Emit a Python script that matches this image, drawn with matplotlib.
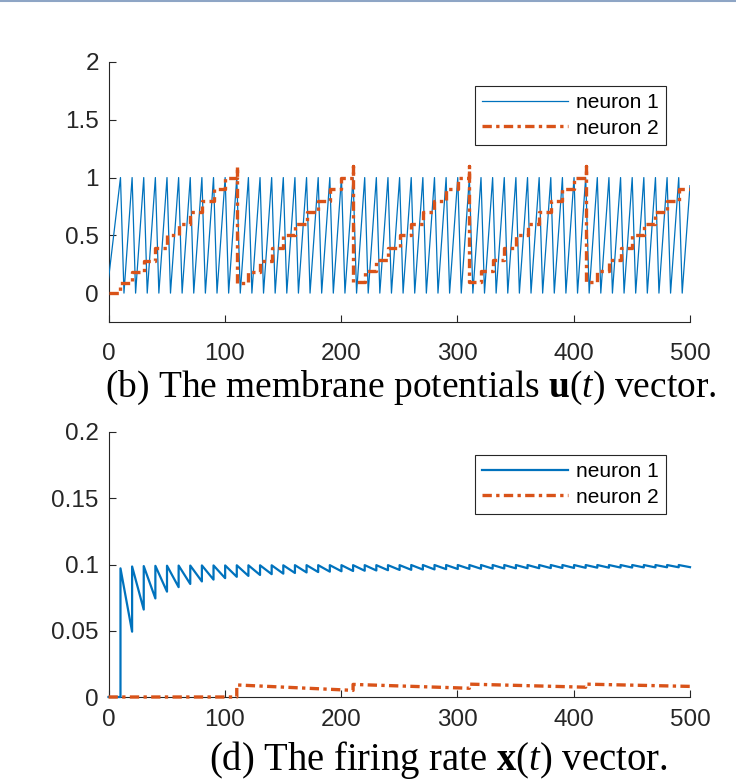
import matplotlib
matplotlib.use("Agg")
import matplotlib.pyplot as plt
from matplotlib.lines import Line2D

# MATLAB default line colours
BLUE, ORANGE, AX_COL = "#0072BD", "#D95319", "#262626"

plt.rcParams.update({
    "font.family": ["Liberation Sans", "DejaVu Sans"],
    "mathtext.fontset": "custom",
    "mathtext.rm": "Liberation Serif",
    "mathtext.it": "Liberation Serif:italic",
    "mathtext.bf": "Liberation Serif:bold",
})

# ── data ─────────────────────────────────────────────────────────────────────
# neuron 1: spike times (sawtooth peaks) and times where u1 is back at 0
spike_t1 = [10.3, 20.3, 30.3, 40.3, 50.3, 60.3, 70.3, 80.3, 90.3, 100.3,
            110.3, 120.3, 130.3, 140.3, 150.3, 160.3, 170.3, 180.3, 190.3, 200.3,
            210.3, 220.3, 230.3, 240.3, 250.3, 260.3, 270.3, 280.3, 290.3, 300.3,
            310.3, 320.3, 330.3, 340.3, 350.3, 360.3, 370.3, 380.3, 390.3, 400.3,
            410.3, 420.3, 430.3, 440.3, 450.3, 460.3, 470.3, 480.3, 490.3]
reset_t1 = [13.3, 23.3, 33.3, 43.3, 53.3, 63.3, 73.3, 83.3, 93.3, 103.3,
            113.3, 123.3, 133.3, 143.3, 153.3, 163.3, 173.3, 183.3, 193.3, 203.3,
            213.3, 223.3, 233.3, 243.3, 253.3, 263.3, 273.3, 283.3, 293.3, 303.3,
            313.3, 323.3, 333.3, 343.3, 353.3, 363.3, 373.3, 383.3, 393.3, 403.3,
            413.3, 423.3, 433.3, 443.3, 453.3, 463.3, 473.3, 483.3, 493.3]
u1_start, u1_peak, u1_floor, u1_end = 0.12, 1.0, 0.0, 0.93

# neuron 2 membrane potential: staircase levels (step-post)
u2_t = [0, 10.3, 20.3, 30.3, 40.3, 50.3, 60.3, 70.3, 80.3, 90.3, 100.3, 110.3, 110.3,
        120.3, 130.3, 140.3, 150.3, 160.3, 170.3, 180.3, 190.3, 200.3, 210.3, 210.3,
        220.3, 230.3, 240.3, 250.3, 260.3, 270.3, 280.3, 290.3, 300.3, 310.3, 310.3,
        320.3, 330.3, 340.3, 350.3, 360.3, 370.3, 380.3, 390.3, 400.3, 410.3, 410.3,
        420.3, 430.3, 440.3, 450.3, 460.3, 470.3, 480.3, 490.3, 500]
u2_v = [0.0, 0.09, 0.18, 0.28, 0.39, 0.5, 0.6, 0.7, 0.8, 0.9, 1.0, 1.1, 0.09,
        0.18, 0.28, 0.39, 0.5, 0.6, 0.7, 0.8, 0.9, 1.0, 1.1, 0.1,
        0.19, 0.29, 0.39, 0.5, 0.6, 0.7, 0.8, 0.9, 1.0, 1.1, 0.1,
        0.19, 0.29, 0.39, 0.5, 0.6, 0.7, 0.8, 0.9, 1.0, 1.1, 0.1,
        0.19, 0.29, 0.39, 0.5, 0.6, 0.7, 0.8, 0.9, 0.9]

# neuron 1 firing rate: value just before each spike and right after it
x1_trough = [0.0, 0.0493, 0.0660, 0.0744, 0.0795, 0.0829, 0.0853, 0.0872, 0.0886, 0.0897,
             0.0907, 0.0914, 0.0921, 0.0927, 0.0931, 0.0936, 0.0940, 0.0943, 0.0946, 0.0949,
             0.0951, 0.0953, 0.0955, 0.0957, 0.0959, 0.0960, 0.0962, 0.0963, 0.0965, 0.0966,
             0.0967, 0.0968, 0.0969, 0.0970, 0.0971, 0.0972, 0.0972, 0.0973, 0.0974, 0.0974,
             0.0975, 0.0976, 0.0976, 0.0977, 0.0977, 0.0978, 0.0978, 0.0979, 0.0979]
x1_peak = [0.0971, 0.0985, 0.0988, 0.0990, 0.0991, 0.0992, 0.0992, 0.0993, 0.0993, 0.0993,
           0.0994, 0.0994, 0.0994, 0.0994, 0.0994, 0.0995, 0.0995, 0.0995, 0.0995, 0.0995,
           0.0995, 0.0995, 0.0995, 0.0995, 0.0995, 0.0996, 0.0996, 0.0996, 0.0996, 0.0996,
           0.0996, 0.0996, 0.0996, 0.0996, 0.0996, 0.0996, 0.0996, 0.0996, 0.0996, 0.0996,
           0.0996, 0.0996, 0.0996, 0.0996, 0.0996, 0.0996, 0.0996, 0.0996, 0.0996]
x1_end = 0.0980

# neuron 2 firing rate (vertices)
x2_t = [0, 110.3, 110.3, 210.3, 210.3, 310.3, 310.3, 410.3, 410.3, 500]
x2_v = [0.0, 0.0, 0.0091, 0.0050, 0.0095, 0.0066, 0.0097, 0.0074, 0.0097, 0.0080]

x_ticks = [0, 100, 200, 300, 400, 500]
u_ticks = [0, 0.5, 1, 1.5, 2]
u_ticklabels = ["0", "0.5", "1", "1.5", "2"]
x_rate_ticks = [0, 0.05, 0.1, 0.15, 0.2]
x_rate_ticklabels = ["0", "0.05", "0.1", "0.15", "0.2"]
labels = ["neuron 1", "neuron 2"]
caption_b = r"(b) The membrane potentials $\mathbf{u}(t)$ vector."
caption_d = r"(d) The firing rate $\mathbf{x}(t)$ vector."

# polyline vertices built from the lists above
u1_t, u1_v = [0.0], [u1_start]
for s, r in zip(spike_t1, reset_t1):
    u1_t += [s, r]
    u1_v += [u1_peak, u1_floor]
u1_t.append(500)
u1_v.append(u1_end)

x1_t, x1_v = [0.0], [0.0]
for s, lo, hi in zip(spike_t1, x1_trough, x1_peak):
    x1_t += [s, s]
    x1_v += [lo, hi]
x1_t.append(500)
x1_v.append(x1_end)

W, H = 736, 780
DASHDOT = (0, (2.8, 1.3, 1.0, 1.3))


def _style(ax, ylim, yticks, yticklabels, xpad):
    ax.set_xlim(0, 500)
    ax.set_ylim(*ylim)
    ax.set_xticks(x_ticks)
    ax.set_xticklabels([str(v) for v in x_ticks])
    ax.set_yticks(yticks)
    ax.set_yticklabels(yticklabels)
    for side in ("top", "right"):
        ax.spines[side].set_visible(False)
    for side in ("left", "bottom"):
        ax.spines[side].set_color(AX_COL)
        ax.spines[side].set_linewidth(0.8)
    ax.tick_params(direction="in", length=5, width=0.8, colors=AX_COL, labelsize=17.5)
    ax.tick_params(axis="x", pad=xpad)
    ax.tick_params(axis="y", pad=7)


def _legend(ax, fig, top_px):
    leg = ax.legend(labels, loc="upper right",
                    bbox_to_anchor=(666 / W, 1 - top_px / H),
                    bbox_transform=fig.transFigure, fontsize=15, frameon=True,
                    fancybox=False, framealpha=1, edgecolor=AX_COL,
                    handlelength=4.1, handletextpad=0.4, borderpad=0.35,
                    labelspacing=0.3, borderaxespad=0)
    leg.get_frame().set_linewidth(0.8)


fig = plt.figure(figsize=(W / 100, H / 100), dpi=100)

ax1 = fig.add_axes([108.5 / W, (H - 322) / H, (690 - 108.5) / W, 260 / H])
ax1.plot(u1_t, u1_v, color=BLUE, lw=0.9, zorder=3)
ax1.plot(u2_t, u2_v, color=ORANGE, lw=2.4, ls=DASHDOT, drawstyle="steps-post", zorder=4)
_style(ax1, (-0.25, 2), u_ticks, u_ticklabels, xpad=15)
_legend(ax1, fig, 86)

ax2 = fig.add_axes([108.5 / W, (H - 697) / H, (690 - 108.5) / W, 265 / H])
ax2.plot(x1_t, x1_v, color=BLUE, lw=1.6, zorder=3, clip_on=False)
ax2.plot(x2_t, x2_v, color=ORANGE, lw=2.4, ls=DASHDOT, zorder=4, clip_on=False)
_style(ax2, (0, 0.2), x_rate_ticks, x_rate_ticklabels, xpad=9)
_legend(ax2, fig, 455)

fig.text(411 / W, 1 - 388 / H, caption_b, ha="center", va="center",
         fontsize=27, family="Liberation Serif", color="black")
fig.text(438 / W, 1 - 760 / H, caption_d, ha="center", va="center",
         fontsize=27.8, family="Liberation Serif", color="black")

# thin page rule along the top edge
fig.add_artist(Line2D([0, 1], [1 - 1 / H, 1 - 1 / H], transform=fig.transFigure,
                      color="#8EA5C5", lw=1.5))

fig.savefig("out.png", dpi=100)
